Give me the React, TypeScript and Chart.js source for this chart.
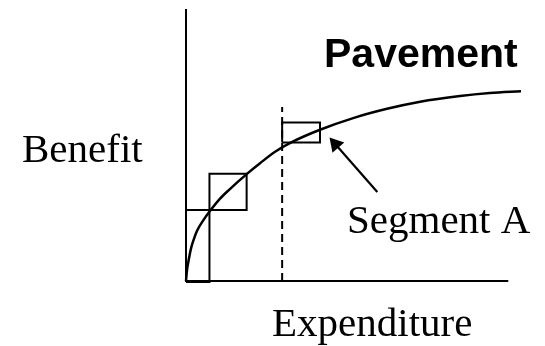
import React, { useEffect, useRef } from "react";
import { Chart, registerables } from "chart.js";

Chart.register(...registerables);

// Benefit curve (expenditure, benefit)
const curveX = [0, 0.3, 0.9, 1.5, 2.4, 3.3, 5.1, 7.2, 10.1, 13.1, 18.1, 22.1, 26.6, 32.0, 40.0, 49.9, 60.0, 69.9, 81.8, 90.7, 100];
const curveY = [0, 4.0, 8.4, 12.0, 15.6, 18.5, 22.2, 25.8, 30.2, 33.8, 39.3, 43.3, 47.5, 51.3, 55.6, 59.9, 63.3, 65.9, 68.0, 69.1, 69.8];

// Segment boxes: [x0, x1, y0, y1]
const box1 = [0, 7.0, -0.4, 26.1];
const box2 = [7.0, 18.1, 26.1, 39.4];
const box3 = [28.7, 40.0, 50.9, 58.3];

// Dashed marker at the chosen expenditure
const dashX = 28.7;
const dashTop = 64.0;

// Axes extents
const yAxisTop = 100;
const xAxisRight = 96.2;

// Arrow from label to Segment A: tail, head centre
const arrowX = [57.1, 44.6];
const arrowY = [32.7, 50.3];

const titleText = "Pavement";
const yLabel = "Benefit";
const xLabel = "Expenditure";
const segLabel = "Segment A";

function rectPts(b: number[]) {
  const [x0, x1, y0, y1] = b;
  return [
    { x: x0, y: y0 },
    { x: x1, y: y0 },
    { x: x1, y: y1 },
    { x: x0, y: y1 },
    { x: x0, y: y0 },
  ];
}

const textPlugin = {
  id: "labels",
  afterDraw(chart: any) {
    const ctx = chart.ctx;
    ctx.save();
    ctx.fillStyle = "#000";
    ctx.textBaseline = "alphabetic";
    ctx.textAlign = "left";
    ctx.font = "bold 41px 'Liberation Sans', Arial, sans-serif";
    ctx.fillText(titleText, 324, 67);
    ctx.font = "41px 'Liberation Serif', 'Times New Roman', serif";
    ctx.fillText(yLabel, 22, 162);
    ctx.fillText(segLabel, 347, 233);
    ctx.fillText(xLabel, 272, 336);
    ctx.restore();
  },
};

export default function App() {
  const ref = useRef<HTMLCanvasElement>(null);
  useEffect(() => {
    if (!ref.current) return;
    const base = {
      showLine: true,
      borderColor: "#000",
      backgroundColor: "#000",
      pointRadius: 0,
      fill: false,
      clip: false as any,
      tension: 0,
    };
    const chart = new Chart(ref.current, {
      type: "scatter",
      data: {
        datasets: [
          { ...base, borderWidth: 2, data: [{ x: 0, y: 0 }, { x: 0, y: yAxisTop }] },
          { ...base, borderWidth: 2, data: [{ x: 0, y: 0 }, { x: xAxisRight, y: 0 }] },
          {
            ...base,
            borderWidth: 2.5,
            cubicInterpolationMode: "monotone",
            data: curveX.map((x, i) => ({ x, y: curveY[i] })),
          },
          { ...base, borderWidth: 2, data: rectPts(box1) },
          { ...base, borderWidth: 2, data: rectPts(box2) },
          { ...base, borderWidth: 2, data: rectPts(box3) },
          {
            ...base,
            borderWidth: 2,
            borderDash: [8, 5],
            data: [{ x: dashX, y: 0 }, { x: dashX, y: dashTop }],
          },
          {
            ...base,
            borderWidth: 2.2,
            pointStyle: "triangle",
            pointRadius: [0, 9],
            pointRotation: [0, -41],
            pointBackgroundColor: "#000",
            pointBorderWidth: 0,
            data: arrowX.map((x, i) => ({ x, y: arrowY[i] })),
          },
        ] as any,
      },
      options: {
        animation: false,
        responsive: false,
        events: [],
        layout: { padding: { left: 186, top: 6, right: 24, bottom: 65 } },
        scales: {
          x: { type: "linear", min: 0, max: 100, display: false },
          y: { type: "linear", min: 0, max: 100, display: false },
        },
        plugins: { legend: { display: false }, tooltip: { enabled: false } },
      },
      plugins: [textPlugin],
    });
    return () => chart.destroy();
  }, []);
  return (
    <div style={{ position: "fixed", left: 0, top: 0, width: 545, height: 346, background: "#fff" }}>
      <canvas ref={ref} width={545} height={346} />
    </div>
  );
}
